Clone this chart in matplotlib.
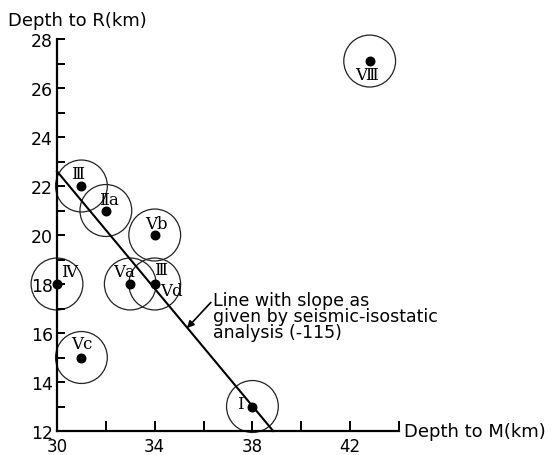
import matplotlib
matplotlib.use('Agg')
import matplotlib.pyplot as plt
from matplotlib.patches import Circle

plt.rcParams['font.family'] = ['DejaVu Sans']

# station data: depth to M (km), depth to R (km)
names = ['Ⅲ', 'Ⅱa', 'Ⅴb', 'Ⅴa', 'Ⅲ', 'Ⅴd', 'Ⅳ', 'Ⅴc', 'Ⅰ', 'Ⅷ']
depth_m = [31, 32, 34, 33, 34, None, 30, 31, 38, 42.8]
depth_r = [22, 21, 20, 18, 18, None, 18, 15, 13, 27.1]
# label offsets in points
offsets = [(-3, 9), (2, 8), (1.5, 8), (-4.5, 9), (4.5, 10.5), (12, -5), (9, 9), (0, 10), (-9, 2.5), (-2.5, -9.5)]
err_radius = 1.06

# seismic-isostatic line
line_m = [30, 38.85]
line_r = [22.6, 12.0]

fig = plt.figure(figsize=(5.53, 4.56), dpi=100)
ax = fig.add_axes([57/553, 24/456, 342/553, 392/456])
ax.set_xlim(30, 44)
ax.set_ylim(12, 28)

for s in ['top', 'right']:
    ax.spines[s].set_visible(False)
for s in ['left', 'bottom']:
    ax.spines[s].set_linewidth(1.6)

ax.set_xticks(range(30, 45, 2))
ax.set_xticklabels(['30', '', '34', '', '38', '', '42', ''])
ax.set_yticks(range(12, 29))
ax.set_yticklabels([str(v) if v % 2 == 0 else '' for v in range(12, 29)])
ax.tick_params(axis='x', direction='in', length=7, width=1.4, pad=4, labelsize=12)
ax.tick_params(axis='y', direction='in', length=6, width=1.4, pad=3, labelsize=12.5)

ax.plot(line_m, line_r, color='black', lw=1.5, clip_on=False)

for i, name in enumerate(names):
    j = 4 if depth_m[i] is None else i
    x, y = depth_m[j], depth_r[j]
    if depth_m[i] is not None:
        ax.add_patch(Circle((x, y), err_radius, fill=False, ec='#222222', lw=0.9, clip_on=False))
        ax.scatter([x], [y], s=38, color='black', zorder=5, clip_on=False)
    ax.annotate(name, (x, y), xytext=offsets[i], textcoords='offset points',
                ha='center', va='center', fontsize=12, family=['DejaVu Serif', 'DejaVu Sans'])

ax.text(36.4, 17.7, 'Line with slope as\ngiven by seismic-isostatic\nanalysis (-115)',
        fontsize=12.5, ha='left', va='top', linespacing=0.85)
ax.annotate('', xy=(35.32, 16.2), xytext=(36.3, 17.25),
            arrowprops=dict(arrowstyle='-|>', color='black', lw=1.2, mutation_scale=10,
                            shrinkA=0, shrinkB=0),
            annotation_clip=False)

ax.text(44.2, 12, 'Depth to M(km)', ha='left', va='center', fontsize=13, clip_on=False)
fig.text(8/553, 1 - 21/456, 'Depth to R(km)', ha='left', va='center', fontsize=13)

fig.savefig('out.png', dpi=100)
